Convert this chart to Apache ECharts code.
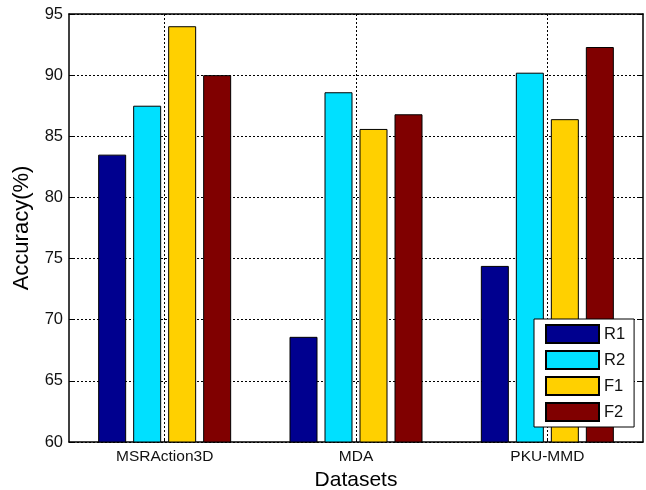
<!DOCTYPE html>
<html>
<head>
<meta charset="utf-8">
<script src="https://cdn.jsdelivr.net/npm/echarts@6/dist/echarts.min.js"></script>
<style>html,body{margin:0;padding:0;background:#fff}#c{width:646px;height:490px}</style>
</head>
<body>
<div id="c"></div>
<script>
const categories = ['MSRAction3D', 'MDA', 'PKU-MMD'];
const seriesNames = ['R1', 'R2', 'F1', 'F2'];
const R1 = [83.5, 68.6, 74.4];
const R2 = [87.5, 88.6, 90.2];
const F1 = [94.0, 85.6, 86.4];
const F2 = [90.0, 86.8, 92.3];
const yTicks = [60, 65, 70, 75, 80, 85, 90, 95];
const colors = ['#00008F', '#00E0FF', '#FFD000', '#800000'];
const values = [R1, R2, F1, F2];

const font = 'Liberation Sans, Arial, sans-serif';
const chart = echarts.init(document.getElementById('c'));
const dotted = { color: '#000', width: 1, type: [2, 2] };
chart.setOption({
  animation: false,
  backgroundColor: '#fff',
  grid: { left: 69, right: 3, top: 14, bottom: 48, containLabel: false, outerBoundsMode: 'none' },
  legend: {
    orient: 'vertical', left: 534, top: 319,
    itemWidth: 53, itemHeight: 18, itemGap: 6,
    padding: [5, 9, 5, 11],
    borderColor: '#000', borderWidth: 1, backgroundColor: '#fff',
    icon: 'rect',
    textStyle: { fontFamily: font, fontSize: 16.5, color: '#111' },
    data: seriesNames
  },
  xAxis: [{
    type: 'category', data: categories, position: 'bottom',
    name: 'Datasets', nameLocation: 'middle', nameGap: 23,
    nameTextStyle: { fontFamily: font, fontSize: 21, color: '#000' },
    axisLine: { lineStyle: { color: '#000', width: 1.5 } },
    axisTick: { show: true, inside: true, alignWithLabel: true, length: 4, lineStyle: { color: '#000' } },
    axisLabel: { fontFamily: font, fontSize: 15.5, color: '#111', margin: 7 },
    splitLine: { show: true, alignWithLabel: true, lineStyle: dotted }
  }, {
    type: 'category', data: categories, position: 'top',
    axisLine: { lineStyle: { color: '#000', width: 1.5 } },
    axisTick: { show: false }, axisLabel: { show: false }, splitLine: { show: false }
  }],
  yAxis: [{
    type: 'value', min: 60, max: 95, interval: 5,
    name: 'Accuracy(%)', nameLocation: 'middle', nameGap: 36,
    nameTextStyle: { fontFamily: font, fontSize: 22, color: '#000' },
    axisLine: { show: true, lineStyle: { color: '#000', width: 1.5 } },
    axisTick: { show: true, inside: true, length: 4, lineStyle: { color: '#000' } },
    axisLabel: { fontFamily: font, fontSize: 16.5, color: '#111', margin: 6,
      formatter: v => yTicks.includes(v) ? String(v) : '' },
    splitLine: { show: true, lineStyle: dotted }
  }, {
    type: 'value', min: 60, max: 95, interval: 5, position: 'right',
    axisLine: { show: true, lineStyle: { color: '#000', width: 1.5 } },
    axisTick: { show: true, inside: true, length: 4, lineStyle: { color: '#000' } },
    axisLabel: { show: false }, splitLine: { show: false }
  }],
  series: seriesNames.map((n, i) => ({
    name: n, type: 'bar', data: values[i],
    barWidth: 28, barGap: '25%',
    itemStyle: { color: colors[i], borderColor: '#000', borderWidth: 1 }
  }))
});
</script>
</body>
</html>
